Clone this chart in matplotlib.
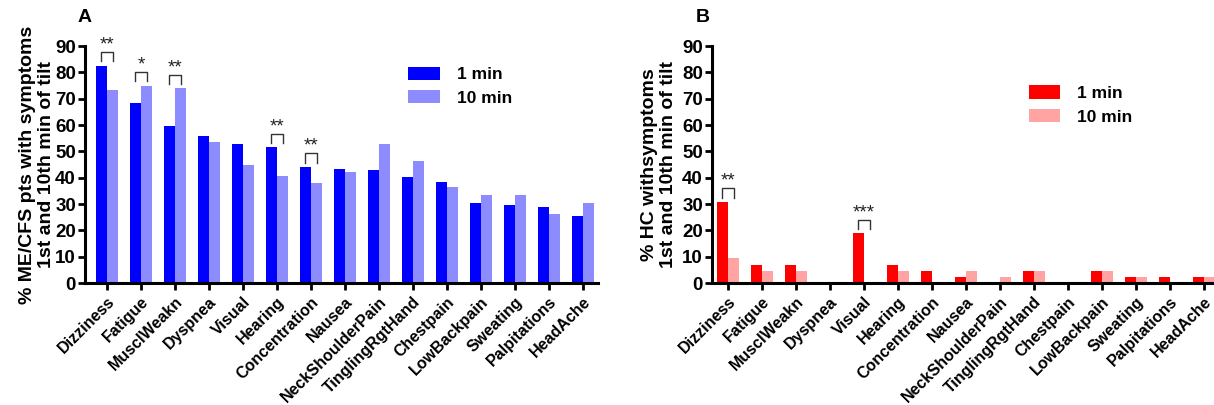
import matplotlib.pyplot as plt
import numpy as np

plt.rcParams['font.family'] = ['Liberation Sans', 'DejaVu Sans']
plt.rcParams['font.weight'] = 'bold'

symptoms = ["Dizziness", "Fatigue", "MusclWeakn", "Dyspnea", "Visual", "Hearing",
            "Concentration", "Nausea", "NeckShoulderPain", "TinglingRgtHand",
            "Chestpain", "LowBackpain", "Sweating", "Palpitations", "HeadAche"]

mecfs_1min = [82.5, 68.4, 59.5, 55.8, 53.0, 51.6, 44.1, 43.3, 43.1, 40.4, 38.4, 30.4, 29.8, 28.8, 25.5]
mecfs_10min = [73.5, 74.9, 74.0, 53.7, 45.0, 40.7, 38.0, 42.1, 53.0, 46.4, 36.6, 33.3, 33.3, 26.4, 30.4]

hc_1min = [30.8, 7.0, 7.0, 0, 18.9, 7.0, 4.7, 2.3, 0, 4.7, 0, 4.7, 2.3, 2.3, 2.3]
hc_10min = [9.4, 4.7, 4.7, 0, 0, 4.7, 0, 4.7, 2.3, 4.7, 0, 4.7, 2.3, 0, 2.3]

mecfs_sig = {"Dizziness": "**", "Fatigue": "*", "MusclWeakn": "**", "Hearing": "**", "Concentration": "**"}
hc_sig = {"Dizziness": "**", "Visual": "***"}


def draw_panel(ax, v1, v10, c1, c10, ylabel, sig, letter, xlim, legend_pos, label_x, letter_x):
    x = np.arange(len(symptoms))
    w = 0.33
    ax.bar(x - w / 2, v1, w, color=c1, label="1 min")
    ax.bar(x + w / 2, v10, w, color=c10, label="10 min")

    # significance brackets
    for name, stars in sig.items():
        i = symptoms.index(name)
        top = max(v1[i], v10[i]) + 5.2
        ax.plot([i - w / 2, i - w / 2, i + w / 2, i + w / 2],
                [top - 3.5, top, top, top - 3.5], color="#333333", lw=1, clip_on=False)
        ax.text(i, top - 0.6, stars, ha="center", va="bottom", fontsize=13.5,
                fontweight="normal", color="#222222")

    ax.set_ylim(0, 90)
    ax.set_xlim(*xlim)
    ax.set_yticks(range(0, 91, 10))
    ax.set_xticks(x)
    ax.set_xticklabels(symptoms, rotation=45, ha="right", rotation_mode="anchor", fontsize=11.5)
    ax.tick_params(axis="y", labelsize=13.5, width=2, length=5, pad=1.5)
    ax.tick_params(axis="x", width=2, length=5, pad=3)
    for s in ["top", "right"]:
        ax.spines[s].set_visible(False)
    for s in ["left", "bottom"]:
        ax.spines[s].set_linewidth(2.2)
    ax.set_ylabel(ylabel, fontsize=14, fontweight="bold", linespacing=1.15)
    ax.yaxis.set_label_coords(label_x, 0.5)
    ax.text(letter_x, 1.085, letter, transform=ax.transAxes, fontsize=14, fontweight="bold",
            ha="center", va="bottom")
    ax.legend(loc="upper left", bbox_to_anchor=legend_pos, frameon=False, fontsize=12.5,
              handlelength=1.8, handleheight=0.8, handletextpad=1.0, labelspacing=0.45)


fig = plt.figure(figsize=(12.14, 4.05), dpi=100)
ax_a = fig.add_axes([0.070, 0.301, 0.4226, 0.585])
ax_b = fig.add_axes([0.5865, 0.301, 0.4135, 0.585])

draw_panel(ax_a, mecfs_1min, mecfs_10min, "#0000FF", "#8C8CFF",
           "% ME/CFS pts with symptoms\n1st and 10th min of tilt", mecfs_sig, "A",
           (-0.65, 14.45), (0.6, 0.98), -0.058, 0.0)
draw_panel(ax_b, hc_1min, hc_10min, "#FF0000", "#FFA3A3",
           "% HC withsymptoms\n1st and 10th min of tilt", hc_sig, "B",
           (-0.47, 14.3), (0.6, 0.9), -0.07, -0.018)

fig.savefig("out.png", dpi=100)
